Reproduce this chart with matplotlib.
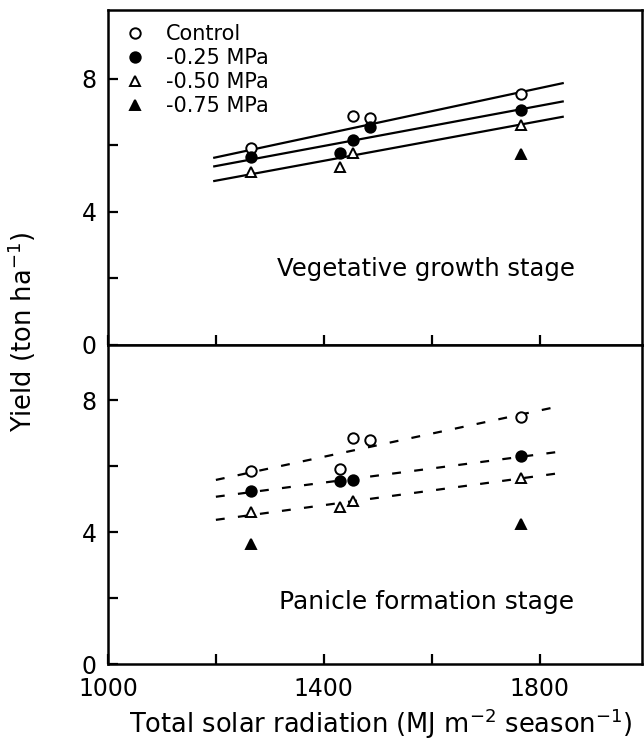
import matplotlib
matplotlib.use("Agg")
import matplotlib.pyplot as plt
from matplotlib.lines import Line2D
import numpy as np

plt.rcParams['font.family'] = ['DejaVu Sans']

# ---- data ----
series_names = ["Control", "-0.25 MPa", "-0.50 MPa", "-0.75 MPa"]

# Vegetative growth stage
veg_ctrl_x = [1265, 1455, 1485, 1765]
veg_ctrl_y = [5.91, 6.88, 6.83, 7.56]
veg_m25_x = [1265, 1430, 1455, 1485, 1765]
veg_m25_y = [5.66, 5.78, 6.15, 6.54, 7.06]
veg_m50_x = [1265, 1430, 1455, 1765]
veg_m50_y = [5.21, 5.35, 5.78, 6.62]
veg_m75_x = [1765]
veg_m75_y = [5.73]
# regression lines (x range, y at ends)
veg_line_x = [1197, 1843]
veg_line_ctrl = [5.63, 7.87]
veg_line_m25 = [5.37, 7.32]
veg_line_m50 = [4.93, 6.86]

# Panicle formation stage
pan_ctrl_x = [1265, 1430, 1455, 1485, 1765]
pan_ctrl_y = [5.84, 5.91, 6.84, 6.79, 7.48]
pan_m25_x = [1265, 1430, 1455, 1765]
pan_m25_y = [5.25, 5.56, 5.58, 6.30]
pan_m50_x = [1265, 1430, 1455, 1765]
pan_m50_y = [4.61, 4.75, 4.93, 5.63]
pan_m75_x = [1265, 1765]
pan_m75_y = [3.64, 4.25]
pan_line_x = [1200, 1830]
pan_line_ctrl = [5.58, 7.79]
pan_line_m25 = [5.07, 6.42]
pan_line_m50 = [4.37, 5.77]

x_major = [1000, 1400, 1800]
x_minor = [1200, 1600]
y_major = [0, 4, 8]
y_minor = [2, 6]

W, H = 644, 750
fig = plt.figure(figsize=(W / 100, H / 100), dpi=100)
left = 108 / W
right = 642 / W
ax1 = fig.add_axes([left, 1 - 345 / H, right - left, (345 - 10) / H])
ax2 = fig.add_axes([left, 1 - 664 / H, right - left, (664 - 345) / H])

ms = 7.5
mew = 1.4
styles = [
    dict(marker='o', mfc='white', mec='black'),
    dict(marker='o', mfc='black', mec='black'),
    dict(marker='^', mfc='white', mec='black'),
    dict(marker='^', mfc='black', mec='black'),
]

def draw(ax, pts, lines, lx, ls):
    for ly in lines:
        if ls == '--':
            ax.plot(lx, ly, color='black', lw=1.6, ls='--', dashes=(4, 6),
                    zorder=1)
        else:
            ax.plot(lx, ly, color='black', lw=1.6, ls='-', zorder=1)
    for (px, py), st in zip(pts, styles):
        ax.plot(px, py, ls='none', ms=ms, mew=mew, zorder=3, **st)

draw(ax1, [(veg_ctrl_x, veg_ctrl_y), (veg_m25_x, veg_m25_y),
           (veg_m50_x, veg_m50_y), (veg_m75_x, veg_m75_y)],
     [veg_line_ctrl, veg_line_m25, veg_line_m50], veg_line_x, '-')
draw(ax2, [(pan_ctrl_x, pan_ctrl_y), (pan_m25_x, pan_m25_y),
           (pan_m50_x, pan_m50_y), (pan_m75_x, pan_m75_y)],
     [pan_line_ctrl, pan_line_m25, pan_line_m50], pan_line_x, '--')

ax1.set_ylim(0, 10.07)
ax2.set_ylim(0, 9.67)
for ax in (ax1, ax2):
    ax.set_xlim(1000, 1990)
    ax.set_yticks(y_major)
    ax.set_yticks(y_minor, minor=True)
    ax.set_xticks(x_major)
    ax.set_xticks(x_minor, minor=True)
    ax.tick_params(which='both', direction='in', length=7, width=1.6,
                   labelsize=17)
    ax.tick_params(axis='y', pad=8)
    for s in ax.spines.values():
        s.set_linewidth(1.8)
ax1.tick_params(axis='x', which='both', labelbottom=False)
ax2.tick_params(axis='x', which='both', pad=9)

ax1.text(0.316, 0.226, "Vegetative growth stage", transform=ax1.transAxes,
         fontsize=17.5, ha='left', va='center')
ax2.text(0.32, 0.194, "Panicle formation stage", transform=ax2.transAxes,
         fontsize=18, ha='left', va='center')

handles = [Line2D([], [], ls='none', ms=ms, mew=mew, **st) for st in styles]
ax1.legend(handles, series_names, loc='upper left', frameon=False,
           fontsize=15, handletextpad=0.9, labelspacing=0.2,
           handlelength=1.2, borderpad=0.0, borderaxespad=0.0,
           bbox_to_anchor=((122 - 108) / 534, (345 - 24) / 335))

fig.text(22 / W, 1 - 332 / H, "Yield (ton ha$^{-1}$)", rotation=90,
         ha='center', va='center', fontsize=18.5)
fig.text(381 / W, 1 - 724 / H, "Total solar radiation (MJ m$^{-2}$ season$^{-1}$)",
         ha='center', va='center', fontsize=18.5)

fig.savefig("out.png", dpi=100)
